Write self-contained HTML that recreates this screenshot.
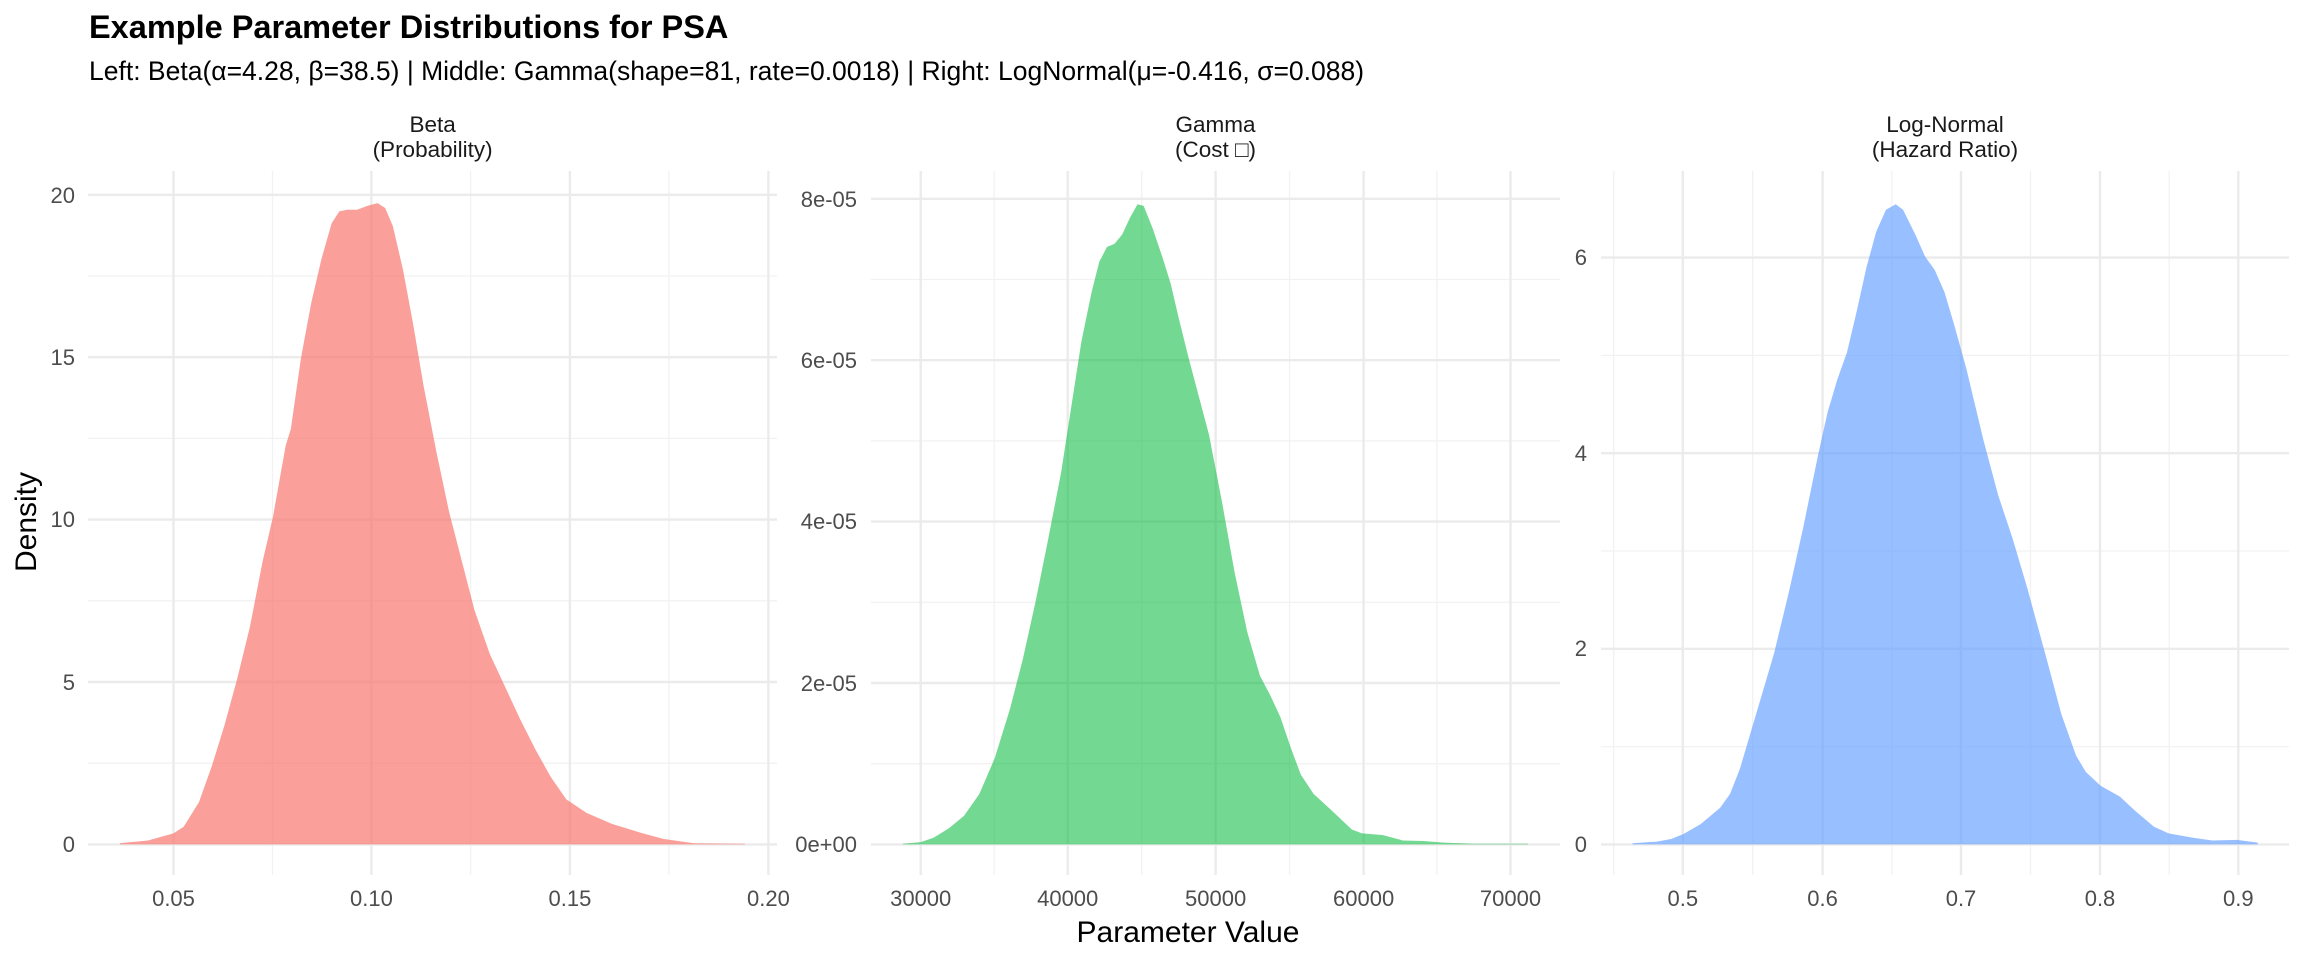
<!DOCTYPE html>
<html><head><meta charset="utf-8"><style>
html,body{margin:0;padding:0;background:#fff;}
svg{display:block;font-family:"Liberation Sans",Arial,sans-serif;}
.mj{stroke:#EBEBEB;stroke-width:2.4;}
.mn{stroke:#F2F2F2;stroke-width:1.3;}
.tk{fill:#4D4D4D;font-size:22px;}
.st{fill:#1A1A1A;font-size:22.5px;text-anchor:middle;}
</style></head><body>
<svg width="2304" height="960" viewBox="0 0 2304 960" xmlns="http://www.w3.org/2000/svg">
<rect width="2304" height="960" fill="#fff"/>
<text x="89" y="38" font-size="32.5" font-weight="bold" fill="#000">Example Parameter Distributions for PSA</text>
<text x="89" y="80" font-size="26.5" fill="#000">Left: Beta(α=4.28, β=38.5) | Middle: Gamma(shape=81, rate=0.0018) | Right: LogNormal(μ=-0.416, σ=0.088)</text>

<!-- Panel 1 grid -->
<g>
<line class="mn" x1="88" x2="777" y1="763.2" y2="763.2"/><line class="mn" x1="88" x2="777" y1="600.8" y2="600.8"/><line class="mn" x1="88" x2="777" y1="438.4" y2="438.4"/><line class="mn" x1="88" x2="777" y1="276" y2="276"/>
<line class="mn" x1="272.5" x2="272.5" y1="171" y2="875"/><line class="mn" x1="470.6" x2="470.6" y1="171" y2="875"/><line class="mn" x1="669" x2="669" y1="171" y2="875"/>
<line class="mj" x1="88" x2="777" y1="844.4" y2="844.4"/><line class="mj" x1="88" x2="777" y1="682" y2="682"/><line class="mj" x1="88" x2="777" y1="519.6" y2="519.6"/><line class="mj" x1="88" x2="777" y1="357.2" y2="357.2"/><line class="mj" x1="88" x2="777" y1="194.8" y2="194.8"/>
<line class="mj" x1="173.5" x2="173.5" y1="171" y2="875"/><line class="mj" x1="371.4" x2="371.4" y1="171" y2="875"/><line class="mj" x1="569.9" x2="569.9" y1="171" y2="875"/><line class="mj" x1="768.4" x2="768.4" y1="171" y2="875"/>
</g>
<!-- Panel 2 grid -->
<g>
<line class="mn" x1="871" x2="1560" y1="763.7" y2="763.7"/><line class="mn" x1="871" x2="1560" y1="602.3" y2="602.3"/><line class="mn" x1="871" x2="1560" y1="440.9" y2="440.9"/><line class="mn" x1="871" x2="1560" y1="279.5" y2="279.5"/>
<line class="mn" x1="994.2" x2="994.2" y1="171" y2="875"/><line class="mn" x1="1141.7" x2="1141.7" y1="171" y2="875"/><line class="mn" x1="1289.6" x2="1289.6" y1="171" y2="875"/><line class="mn" x1="1437" x2="1437" y1="171" y2="875"/>
<line class="mj" x1="871" x2="1560" y1="844.4" y2="844.4"/><line class="mj" x1="871" x2="1560" y1="683" y2="683"/><line class="mj" x1="871" x2="1560" y1="521.6" y2="521.6"/><line class="mj" x1="871" x2="1560" y1="360.2" y2="360.2"/><line class="mj" x1="871" x2="1560" y1="198.8" y2="198.8"/>
<line class="mj" x1="920.7" x2="920.7" y1="171" y2="875"/><line class="mj" x1="1067.7" x2="1067.7" y1="171" y2="875"/><line class="mj" x1="1215.6" x2="1215.6" y1="171" y2="875"/><line class="mj" x1="1363.6" x2="1363.6" y1="171" y2="875"/><line class="mj" x1="1510.5" x2="1510.5" y1="171" y2="875"/>
</g>
<!-- Panel 3 grid -->
<g>
<line class="mn" x1="1601" x2="2289" y1="746.6" y2="746.6"/><line class="mn" x1="1601" x2="2289" y1="551" y2="551"/><line class="mn" x1="1601" x2="2289" y1="355.4" y2="355.4"/>
<line class="mn" x1="1613.7" x2="1613.7" y1="171" y2="875"/><line class="mn" x1="1752.7" x2="1752.7" y1="171" y2="875"/><line class="mn" x1="1891.8" x2="1891.8" y1="171" y2="875"/><line class="mn" x1="2030.5" x2="2030.5" y1="171" y2="875"/><line class="mn" x1="2169.2" x2="2169.2" y1="171" y2="875"/>
<line class="mj" x1="1601" x2="2289" y1="844.4" y2="844.4"/><line class="mj" x1="1601" x2="2289" y1="648.8" y2="648.8"/><line class="mj" x1="1601" x2="2289" y1="453.2" y2="453.2"/><line class="mj" x1="1601" x2="2289" y1="257.6" y2="257.6"/>
<line class="mj" x1="1682.8" x2="1682.8" y1="171" y2="875"/><line class="mj" x1="1822.6" x2="1822.6" y1="171" y2="875"/><line class="mj" x1="1961" x2="1961" y1="171" y2="875"/><line class="mj" x1="2100" x2="2100" y1="171" y2="875"/><line class="mj" x1="2238.3" x2="2238.3" y1="171" y2="875"/>
</g>

<!-- Densities -->
<g transform="translate(0,100) scale(0.5102,0.5485)">
<path fill="#F8766D" fill-opacity="0.7" d="M235,1357 L235,1355 L290,1350 L340,1337 L360,1325 L390,1280 L415,1215 L440,1140 L465,1055 L490,960 L515,840 L535,760 L560,630 L570,600 L590,470 L610,370 L630,290 L650,225 L665,203 L680,200 L700,200 L720,193 L740,188 L755,197 L770,230 L790,310 L810,410 L830,520 L855,640 L880,750 L905,840 L930,930 L960,1010 L990,1070 L1020,1130 L1050,1185 L1080,1235 L1110,1275 L1150,1300 L1200,1320 L1260,1337 L1300,1347 L1360,1355 L1460,1356 L1460,1357 Z"/>
</g>
<g transform="translate(760,100) scale(0.5102,0.5485)">
<path fill="#00BA38" fill-opacity="0.55" d="M280,1357 L280,1356 L315,1353 L340,1345 L370,1328 L400,1305 L430,1265 L460,1200 L490,1110 L515,1020 L540,915 L565,800 L590,680 L610,560 L630,440 L650,350 L665,295 L680,268 L695,262 L710,245 L725,215 L740,190 L752,193 L770,235 L790,290 L805,335 L820,395 L840,470 L860,540 L880,610 L905,730 L930,860 L955,970 L980,1050 L1000,1085 L1020,1125 L1040,1180 L1060,1230 L1085,1265 L1120,1295 L1160,1330 L1180,1337 L1220,1340 L1260,1350 L1300,1351 L1340,1354 L1400,1356 L1505,1356 L1505,1357 Z"/>
</g>
<g transform="translate(1540,100) scale(0.4873,0.5485)">
<path fill="#619CFF" fill-opacity="0.65" d="M190,1357 L190,1355 L240,1352 L270,1347 L295,1338 L330,1320 L370,1290 L390,1265 L410,1220 L430,1160 L450,1100 L480,1010 L510,900 L540,780 L570,650 L590,570 L610,510 L630,460 L650,385 L670,305 L690,240 L710,200 L730,190 L745,200 L770,245 L790,285 L810,310 L830,350 L850,410 L875,490 L910,620 L940,720 L970,800 L1000,890 L1040,1020 L1070,1120 L1100,1195 L1120,1225 L1150,1250 L1190,1270 L1220,1295 L1260,1325 L1290,1337 L1340,1345 L1380,1350 L1430,1349 L1473,1354 L1473,1357 Z"/>
</g>

<!-- Strip labels -->
<text class="st" x="432.6" y="132">Beta</text>
<text class="st" x="432.6" y="157">(Probability)</text>
<text class="st" x="1215.5" y="132">Gamma</text>
<text class="st" x="1215.5" y="157">(Cost □)</text>
<text class="st" x="1945" y="132">Log-Normal</text>
<text class="st" x="1945" y="157">(Hazard Ratio)</text>

<!-- Y tick labels -->
<g class="tk" text-anchor="end">
<text x="75" y="852">0</text><text x="75" y="690">5</text><text x="75" y="527">10</text><text x="75" y="365">15</text><text x="75" y="203">20</text>
<text x="857" y="852">0e+00</text><text x="857" y="691">2e-05</text><text x="857" y="529">4e-05</text><text x="857" y="368">6e-05</text><text x="857" y="207">8e-05</text>
<text x="1587" y="852">0</text><text x="1587" y="656">2</text><text x="1587" y="461">4</text><text x="1587" y="265">6</text>
</g>
<!-- X tick labels -->
<g class="tk" text-anchor="middle">
<text x="173.5" y="906">0.05</text><text x="371.4" y="906">0.10</text><text x="569.9" y="906">0.15</text><text x="768.4" y="906">0.20</text>
<text x="920.7" y="906">30000</text><text x="1067.7" y="906">40000</text><text x="1215.6" y="906">50000</text><text x="1363.6" y="906">60000</text><text x="1510.5" y="906">70000</text>
<text x="1682.8" y="906">0.5</text><text x="1822.6" y="906">0.6</text><text x="1961" y="906">0.7</text><text x="2100" y="906">0.8</text><text x="2238.3" y="906">0.9</text>
</g>
<text x="1188" y="942" font-size="30" text-anchor="middle" fill="#000">Parameter Value</text>
<text transform="translate(36,522) rotate(-90)" font-size="30" text-anchor="middle" fill="#000">Density</text>
</svg>
</body></html>
